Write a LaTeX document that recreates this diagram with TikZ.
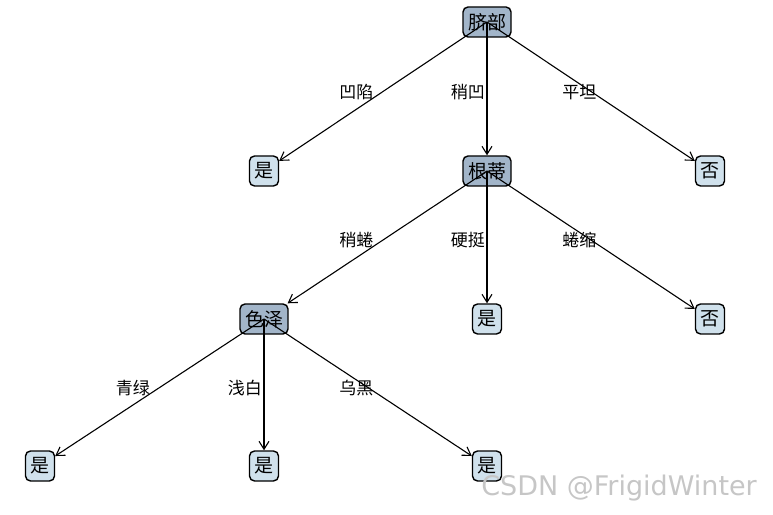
\documentclass[tikz,border=0pt]{standalone}
\usepackage{fontspec}
\newfontfamily\cjk{Noto Sans CJK SC}
\newfontfamily\wmfont{DejaVu Sans}
\usetikzlibrary{arrows.meta,calc}
\definecolor{decfill}{RGB}{162,181,201}
\definecolor{leaffill}{RGB}{208,225,236}

\begin{document}
\begin{tikzpicture}[x=1pt,y=1pt,
  decision/.style={draw,line width=1.4pt,rounded corners=5pt,fill=decfill,inner xsep=5pt,inner ysep=4pt,minimum height=30pt,font=\cjk\fontsize{19}{19}\selectfont},
  leaf/.style={decision,fill=leaffill},
  edge/.style={line width=1.1pt,-{Straight Barb[length=8pt,width=10pt]}},
  lbl/.style={anchor=base east,inner sep=0pt,xshift=-2pt,yshift=-2pt,font=\cjk\fontsize{17}{17}\selectfont}]
\path[use as bounding box] (0,0) rectangle (773,514);
% tree nodes
\node[decision] (root) at (487,492) {脐部};
\node[leaf] (yes1) at (264,343) {是};
\node[decision] (gendi) at (487,343) {根蒂};
\node[leaf] (no1) at (710,343) {否};
\node[decision] (sez) at (264,195) {色泽};
\node[leaf] (yes2) at (487,195) {是};
\node[leaf] (no2) at (710,195) {否};
\node[leaf] (yes3) at (40,48) {是};
\node[leaf] (yes4) at (264,48) {是};
\node[leaf] (yes5) at (487,48) {是};
% connectors
\draw[edge] (root.center) -- (yes1);
\draw[edge] (root.center) -- (gendi);
\draw[edge] (root.center) -- (no1);
\draw[edge] (gendi.center) -- (sez);
\draw[edge] (gendi.center) -- (yes2);
\draw[edge] (gendi.center) -- (no2);
\draw[edge] (sez.center) -- (yes3);
\draw[edge] (sez.center) -- (yes4);
\draw[edge] (sez.center) -- (yes5);
% branch labels
\node[lbl] (l1) at ($(root)!.5!(yes1)$) {凹陷};
\node[lbl] (l2) at ($(root)!.5!(gendi)$) {稍凹};
\node[lbl] (l3) at ($(root)!.5!(no1)$) {平坦};
\node[lbl] (l4) at ($(gendi)!.5!(sez)$) {稍蜷};
\node[lbl] (l5) at ($(gendi)!.5!(yes2)$) {硬挺};
\node[lbl] (l6) at ($(gendi)!.5!(no2)$) {蜷缩};
\node[lbl] (l7) at ($(sez)!.5!(yes3)$) {青绿};
\node[lbl] (l8) at ($(sez)!.5!(yes4)$) {浅白};
\node[lbl] (l9) at ($(sez)!.5!(yes5)$) {乌黑};
\node[anchor=base east,inner sep=0pt,text=gray!45,font=\wmfont\fontsize{27}{27}\selectfont] (mark) at (757,19) {CSDN @FrigidWinter};
\end{tikzpicture}
\end{document}
